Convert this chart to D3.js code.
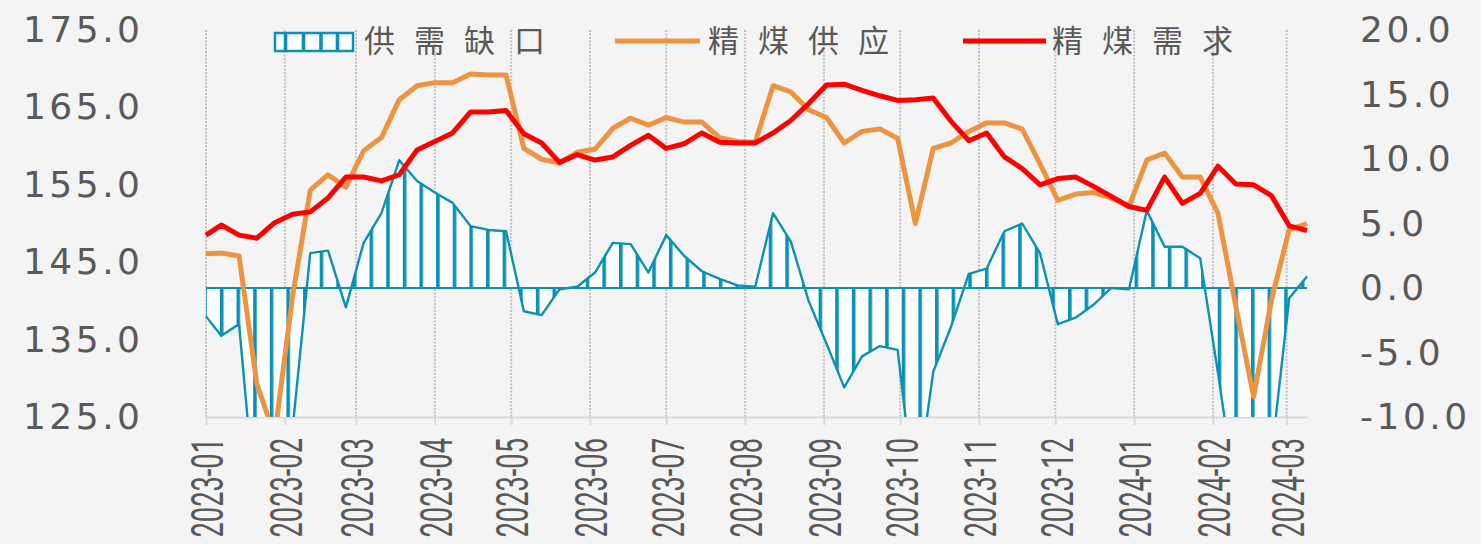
<!DOCTYPE html>
<html>
<head>
<meta charset="utf-8">
<script src="https://cdn.jsdelivr.net/npm/d3@7"></script>
<style>
  html, body { margin: 0; padding: 0; background: #f4f4f4; }
  svg { display: block; }
</style>
</head>
<body>
<svg id="chart"></svg>
<script>
// weekly dates (first point is the axis origin)
var dates = ["2023-01-06","2023-01-12","2023-01-19","2023-01-26","2023-02-02","2023-02-09","2023-02-16","2023-02-23",
  "2023-03-02","2023-03-09","2023-03-16","2023-03-23","2023-03-30","2023-04-06","2023-04-13","2023-04-20","2023-04-27",
  "2023-05-04","2023-05-11","2023-05-18","2023-05-25","2023-06-01","2023-06-08","2023-06-15","2023-06-22","2023-06-29",
  "2023-07-06","2023-07-13","2023-07-20","2023-07-27","2023-08-03","2023-08-10","2023-08-17","2023-08-24","2023-08-31",
  "2023-09-07","2023-09-14","2023-09-21","2023-09-28","2023-10-05","2023-10-12","2023-10-19","2023-10-26",
  "2023-11-02","2023-11-09","2023-11-16","2023-11-23","2023-11-30","2023-12-07","2023-12-14","2023-12-21","2023-12-28",
  "2024-01-04","2024-01-11","2024-01-18","2024-01-25","2024-02-01","2024-02-08","2024-02-15","2024-02-22","2024-02-29",
  "2024-03-07","2024-03-14"];

// 精煤供应 (left axis)
var supply = [146.1,146.2,145.8,129.3,122.5,140.5,154.3,156.3,154.7,159.4,161.1,166.0,167.8,168.2,168.2,169.3,169.2,
  169.2,159.7,158.3,157.8,159.2,159.6,162.3,163.6,162.7,163.7,163.1,163.1,161.1,160.6,160.5,167.8,167.0,164.7,
  163.7,160.4,161.9,162.2,161.0,150.0,159.7,160.4,161.9,163.0,163.0,162.2,157.7,153.0,153.8,154.0,153.3,
  152.2,158.2,159.1,156.0,156.0,151.3,139.3,127.6,140.1,149.2,150.0];

// 精煤需求 (left axis)
var demand = [148.5,149.8,148.5,148.1,150.1,151.2,151.5,153.3,156.0,156.0,155.5,156.3,159.5,160.6,161.7,164.4,164.4,
  164.6,161.6,160.4,157.9,158.9,158.2,158.6,160.1,161.4,159.7,160.3,161.7,160.5,160.4,160.4,161.7,163.3,165.5,
  167.9,168.0,167.2,166.5,165.9,166.0,166.2,163.2,160.7,161.7,158.6,157.1,155.0,155.8,156.0,154.8,153.5,
  152.2,151.7,156.0,152.6,153.9,157.4,155.1,155.0,153.6,149.7,149.1];

// 供需缺口 (right axis)
var gap = [-2.2,-3.7,-2.8,-18.0,-26.0,-11.0,2.7,2.9,-1.5,3.5,5.8,9.9,8.3,7.4,6.6,4.8,4.5,
  4.4,-1.8,-2.1,-0.1,0.1,1.2,3.5,3.4,1.2,4.1,2.5,1.3,0.7,0.2,0.1,5.8,3.6,-1.0,
  -4.3,-7.7,-5.3,-4.5,-4.8,-16.5,-6.5,-3.0,1.1,1.5,4.4,5.0,2.7,-2.8,-2.3,-1.3,0.0,
  -0.1,6.0,3.2,3.2,2.3,-6.6,-16.0,-27.0,-13.0,-0.8,0.9];

var monthLabels = ["2023-01","2023-02","2023-03","2023-04","2023-05","2023-06","2023-07","2023-08",
  "2023-09","2023-10","2023-11","2023-12","2024-01","2024-02","2024-03"];
var leftTicks = [125, 135, 145, 155, 165, 175];
var rightTicks = [-10, -5, 0, 5, 10, 15, 20];
var legendNames = ["供需缺口", "精煤供应", "精煤需求"];

var W = 1481, H = 544;
var plot = {left: 206, right: 1307, top: 30, bottom: 417};
var TEAL = "#0a91b4", ORANGE = "#ec9441", RED = "#ff0000", GREY = "#595959";

var parse = d3.timeParse("%Y-%m-%d");
var rows = dates.map(function (d, i) {
  return {date: parse(d), supply: supply[i], demand: demand[i], gap: gap[i]};
});
// month ticks fall on the same day as the first point
var tickDates = monthLabels.map(function (m) { return parse(m + "-06"); });

var svg = d3.select("#chart").attr("width", W).attr("height", H);
svg.append("rect").attr("width", W).attr("height", H).attr("fill", "#f4f4f4");

var x = d3.scaleTime().domain(d3.extent(rows, function (d) { return d.date; })).range([plot.left, plot.right]);
var yL = d3.scaleLinear().domain([125, 175]).range([plot.bottom, plot.top]);
var yR = d3.scaleLinear().domain([-10, 20]).range([plot.bottom, plot.top]);

var defs = svg.append("defs");
defs.append("clipPath").attr("id", "clip")
  .append("rect").attr("x", plot.left - 5).attr("y", plot.top - 5)
  .attr("width", plot.right - plot.left + 10).attr("height", plot.bottom - plot.top + 5);

// vertical hatch used by the gap area
var pat = defs.append("pattern").attr("id", "hatch").attr("patternUnits", "userSpaceOnUse")
  .attr("x", 219.9).attr("y", 0).attr("width", 16.63).attr("height", 10);
pat.append("rect").attr("width", 16.63).attr("height", 10).attr("fill", "#ffffff");
pat.append("rect").attr("width", 3.6).attr("height", 10).attr("fill", TEAL);

// dotted month gridlines
svg.append("g").selectAll("line").data(tickDates).join("line")
  .attr("x1", function (d) { return x(d); }).attr("x2", function (d) { return x(d); })
  .attr("y1", plot.top).attr("y2", plot.bottom)
  .attr("stroke", "#c2c2c2").attr("stroke-width", 2).attr("stroke-dasharray", "2,1.5");

// x axis
var xAxis = svg.append("g").attr("transform", "translate(0," + plot.bottom + ")")
  .call(d3.axisBottom(x).tickValues(tickDates).tickSize(8).tickSizeOuter(0).tickFormat(d3.timeFormat("%Y-%m")));
xAxis.select(".domain").attr("stroke", "#d9d9d9").attr("stroke-width", 2);
xAxis.selectAll(".tick line").attr("stroke", "#d9d9d9").attr("stroke-width", 2);
xAxis.selectAll(".tick text")
  .attr("x", 0).attr("y", 0).attr("dy", "0.36em")
  .attr("text-anchor", "end")
  .attr("transform", "translate(1,21) rotate(-90) scale(0.62,1)")
  .attr("fill", GREY).style("font-family", "Roboto").style("font-size", "44px");

// y axes
var axL = svg.append("g").attr("transform", "translate(143.5,0)")
  .call(d3.axisLeft(yL).tickValues(leftTicks).tickSize(0).tickFormat(function (d) { return d.toFixed(1); }));
var axR = svg.append("g").attr("transform", "translate(1360,0)")
  .call(d3.axisRight(yR).tickValues(rightTicks).tickSize(0).tickFormat(function (d) { return d.toFixed(1); }));
[axL, axR].forEach(function (ax) {
  ax.select(".domain").remove();
  ax.selectAll("text").attr("x", 0).attr("fill", GREY)
    .style("font-family", "DejaVu Sans").style("font-size", "36px").style("letter-spacing", "3.5px");
});

var plotG = svg.append("g").attr("clip-path", "url(#clip)");

// gap area with hatch
plotG.append("path").datum(rows)
  .attr("fill", "url(#hatch)")
  .attr("d", d3.area().x(function (d) { return x(d.date); }).y0(yR(0)).y1(function (d) { return yR(d.gap); }));
plotG.append("line")
  .attr("x1", x(rows[0].date)).attr("x2", x(rows[rows.length - 1].date))
  .attr("y1", yR(0)).attr("y2", yR(0)).attr("stroke", TEAL).attr("stroke-width", 2.2);
plotG.append("path").datum(rows)
  .attr("fill", "none").attr("stroke", TEAL).attr("stroke-width", 2.4).attr("stroke-linejoin", "round")
  .attr("d", d3.line().x(function (d) { return x(d.date); }).y(function (d) { return yR(d.gap); }));

// supply and demand lines
plotG.append("path").datum(rows)
  .attr("fill", "none").attr("stroke", ORANGE).attr("stroke-width", 5).attr("stroke-linejoin", "round")
  .attr("d", d3.line().x(function (d) { return x(d.date); }).y(function (d) { return yL(d.supply); }));
plotG.append("path").datum(rows)
  .attr("fill", "none").attr("stroke", RED).attr("stroke-width", 5).attr("stroke-linejoin", "round")
  .attr("d", d3.line().x(function (d) { return x(d.date); }).y(function (d) { return yL(d.demand); }));

// legend
var lg = svg.append("g");
var box = lg.append("g");
box.append("rect").attr("x", 275).attr("y", 33).attr("width", 78).attr("height", 18)
  .attr("fill", "#ffffff").attr("stroke", TEAL).attr("stroke-width", 2.5);
[285.5, 303.5, 321, 337.5].forEach(function (sx) {
  box.append("rect").attr("x", sx - 1.8).attr("y", 33).attr("width", 3.6).attr("height", 18).attr("fill", TEAL);
});
lg.append("line").attr("x1", 615).attr("x2", 700).attr("y1", 41).attr("y2", 41)
  .attr("stroke", ORANGE).attr("stroke-width", 5);
lg.append("line").attr("x1", 963).attr("x2", 1046).attr("y1", 41).attr("y2", 41)
  .attr("stroke", RED).attr("stroke-width", 5);
lg.selectAll("text.lab").data([364, 708, 1052]).join("text").attr("class", "lab")
  .attr("x", function (d) { return d; }).attr("y", 41).attr("dy", "0.36em")
  .text(function (d, i) { return legendNames[i]; })
  .attr("fill", GREY).style("font-family", "Noto Sans CJK SC").style("font-size", "31px")
  .style("letter-spacing", "19px");
</script>
</body>
</html>
